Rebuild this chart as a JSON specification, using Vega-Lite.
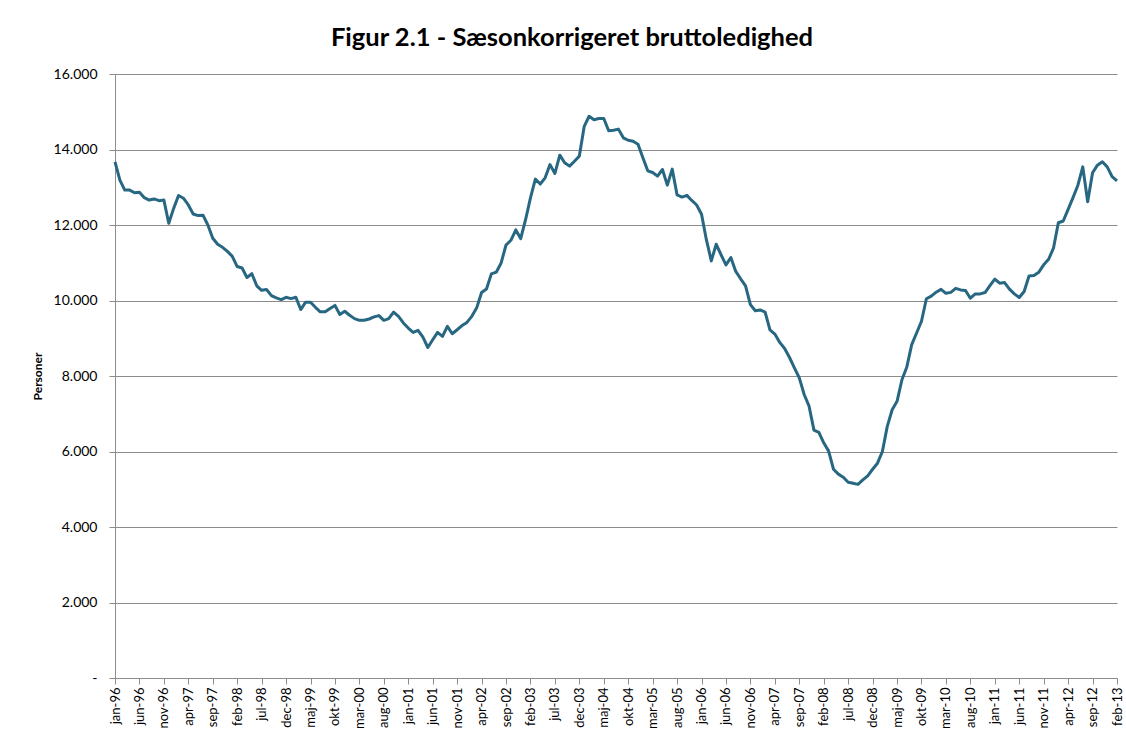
{
  "$schema": "https://vega.github.io/schema/vega-lite/v6.json",
  "width": 1002,
  "height": 604,
  "autosize": "none",
  "padding": {"left": 115, "top": 74, "right": 9, "bottom": 60},
  "background": "white",
  "config": {"view": {"stroke": null}, "font": "Lato"},
  "title": {"text": "Figur 2.1 - Sæsonkorrigeret bruttoledighed", "fontSize": 25.5, "fontWeight": "bold", "font": "Lato", "color": "#000000", "anchor": "middle", "dx": -44, "offset": 16},
  "data": {"values": [
    {"m":"jan-96","v":13675},{"m":"feb-96","v":13190},{"m":"mar-96","v":12925},{"m":"apr-96","v":12925},{"m":"maj-96","v":12855},{"m":"jun-96","v":12870},{"m":"jul-96","v":12725},{"m":"aug-96","v":12660},{"m":"sep-96","v":12690},{"m":"okt-96","v":12645},{"m":"nov-96","v":12660},{"m":"dec-96","v":12045},
    {"m":"jan-97","v":12440},{"m":"feb-97","v":12780},{"m":"mar-97","v":12710},{"m":"apr-97","v":12530},{"m":"maj-97","v":12290},{"m":"jun-97","v":12250},{"m":"jul-97","v":12260},{"m":"aug-97","v":12000},{"m":"sep-97","v":11650},{"m":"okt-97","v":11490},{"m":"nov-97","v":11410},{"m":"dec-97","v":11300},
    {"m":"jan-98","v":11170},{"m":"feb-98","v":10900},{"m":"mar-98","v":10860},{"m":"apr-98","v":10610},{"m":"maj-98","v":10710},{"m":"jun-98","v":10390},{"m":"jul-98","v":10270},{"m":"aug-98","v":10290},{"m":"sep-98","v":10130},{"m":"okt-98","v":10070},{"m":"nov-98","v":10025},{"m":"dec-98","v":10085},
    {"m":"jan-99","v":10050},{"m":"feb-99","v":10085},{"m":"mar-99","v":9760},{"m":"apr-99","v":9955},{"m":"maj-99","v":9955},{"m":"jun-99","v":9820},{"m":"jul-99","v":9700},{"m":"aug-99","v":9700},{"m":"sep-99","v":9790},{"m":"okt-99","v":9870},{"m":"nov-99","v":9630},{"m":"dec-99","v":9715},
    {"m":"jan-00","v":9610},{"m":"feb-00","v":9520},{"m":"mar-00","v":9475},{"m":"apr-00","v":9475},{"m":"maj-00","v":9510},{"m":"jun-00","v":9565},{"m":"jul-00","v":9600},{"m":"aug-00","v":9475},{"m":"sep-00","v":9520},{"m":"okt-00","v":9690},{"m":"nov-00","v":9580},{"m":"dec-00","v":9405},
    {"m":"jan-01","v":9270},{"m":"feb-01","v":9155},{"m":"mar-01","v":9210},{"m":"apr-01","v":9030},{"m":"maj-01","v":8755},{"m":"jun-01","v":8960},{"m":"jul-01","v":9155},{"m":"aug-01","v":9050},{"m":"sep-01","v":9315},{"m":"okt-01","v":9120},{"m":"nov-01","v":9225},{"m":"dec-01","v":9335},
    {"m":"jan-02","v":9420},{"m":"feb-02","v":9580},{"m":"mar-02","v":9805},{"m":"apr-02","v":10210},{"m":"maj-02","v":10305},{"m":"jun-02","v":10705},{"m":"jul-02","v":10750},{"m":"aug-02","v":10995},{"m":"sep-02","v":11470},{"m":"okt-02","v":11595},{"m":"nov-02","v":11870},{"m":"dec-02","v":11640},
    {"m":"jan-03","v":12140},{"m":"feb-03","v":12720},{"m":"mar-03","v":13215},{"m":"apr-03","v":13085},{"m":"maj-03","v":13250},{"m":"jun-03","v":13600},{"m":"jul-03","v":13365},{"m":"aug-03","v":13850},{"m":"sep-03","v":13650},{"m":"okt-03","v":13560},{"m":"nov-03","v":13690},{"m":"dec-03","v":13825},
    {"m":"jan-04","v":14615},{"m":"feb-04","v":14880},{"m":"mar-04","v":14790},{"m":"apr-04","v":14820},{"m":"maj-04","v":14820},{"m":"jun-04","v":14495},{"m":"jul-04","v":14510},{"m":"aug-04","v":14540},{"m":"sep-04","v":14310},{"m":"okt-04","v":14245},{"m":"nov-04","v":14220},{"m":"dec-04","v":14140},
    {"m":"jan-05","v":13780},{"m":"feb-05","v":13435},{"m":"mar-05","v":13390},{"m":"apr-05","v":13295},{"m":"maj-05","v":13470},{"m":"jun-05","v":13055},{"m":"jul-05","v":13480},{"m":"aug-05","v":12795},{"m":"sep-05","v":12740},{"m":"okt-05","v":12785},{"m":"nov-05","v":12650},{"m":"dec-05","v":12530},
    {"m":"jan-06","v":12285},{"m":"feb-06","v":11605},{"m":"mar-06","v":11050},{"m":"apr-06","v":11490},{"m":"maj-06","v":11210},{"m":"jun-06","v":10945},{"m":"jul-06","v":11140},{"m":"aug-06","v":10770},{"m":"sep-06","v":10575},{"m":"okt-06","v":10390},{"m":"nov-06","v":9890},{"m":"dec-06","v":9730},
    {"m":"jan-07","v":9750},{"m":"feb-07","v":9695},{"m":"mar-07","v":9220},{"m":"apr-07","v":9110},{"m":"maj-07","v":8890},{"m":"jun-07","v":8730},{"m":"jul-07","v":8490},{"m":"aug-07","v":8215},{"m":"sep-07","v":7950},{"m":"okt-07","v":7510},{"m":"nov-07","v":7200},{"m":"dec-07","v":6565},
    {"m":"jan-08","v":6505},{"m":"feb-08","v":6230},{"m":"mar-08","v":6010},{"m":"apr-08","v":5530},{"m":"maj-08","v":5400},{"m":"jun-08","v":5320},{"m":"jul-08","v":5185},{"m":"aug-08","v":5160},{"m":"sep-08","v":5130},{"m":"okt-08","v":5250},{"m":"nov-08","v":5355},{"m":"dec-08","v":5530},
    {"m":"jan-09","v":5690},{"m":"feb-09","v":6000},{"m":"mar-09","v":6665},{"m":"apr-09","v":7105},{"m":"maj-09","v":7330},{"m":"jun-09","v":7900},{"m":"jul-09","v":8240},{"m":"aug-09","v":8830},{"m":"sep-09","v":9140},{"m":"okt-09","v":9450},{"m":"nov-09","v":10045},{"m":"dec-09","v":10115},
    {"m":"jan-10","v":10220},{"m":"feb-10","v":10295},{"m":"mar-10","v":10190},{"m":"apr-10","v":10215},{"m":"maj-10","v":10322},{"m":"jun-10","v":10280},{"m":"jul-10","v":10265},{"m":"aug-10","v":10060},{"m":"sep-10","v":10175},{"m":"okt-10","v":10175},{"m":"nov-10","v":10210},{"m":"dec-10","v":10395},
    {"m":"jan-11","v":10565},{"m":"feb-11","v":10460},{"m":"mar-11","v":10475},{"m":"apr-11","v":10300},{"m":"maj-11","v":10175},{"m":"jun-11","v":10080},{"m":"jul-11","v":10240},{"m":"aug-11","v":10650},{"m":"sep-11","v":10660},{"m":"okt-11","v":10750},{"m":"nov-11","v":10945},{"m":"dec-11","v":11090},
    {"m":"jan-12","v":11385},{"m":"feb-12","v":12060},{"m":"mar-12","v":12105},{"m":"apr-12","v":12415},{"m":"maj-12","v":12725},{"m":"jun-12","v":13055},{"m":"jul-12","v":13540},{"m":"aug-12","v":12615},{"m":"sep-12","v":13385},{"m":"okt-12","v":13585},{"m":"nov-12","v":13675},{"m":"dec-12","v":13540},
    {"m":"jan-13","v":13280},{"m":"feb-13","v":13170}
  ]},
  "mark": {"type": "line", "color": "#276782", "strokeWidth": 3, "strokeJoin": "round"},
  "encoding": {
    "x": {
      "field": "m", "type": "ordinal", "sort": null,
      "scale": {"type": "point", "padding": 0},
      "axis": {
        "title": null,
        "values": ["jan-96","jun-96","nov-96","apr-97","sep-97","feb-98","jul-98","dec-98","maj-99","okt-99","mar-00","aug-00","jan-01","jun-01","nov-01","apr-02","sep-02","feb-03","jul-03","dec-03","maj-04","okt-04","mar-05","aug-05","jan-06","jun-06","nov-06","apr-07","sep-07","feb-08","jul-08","dec-08","maj-09","okt-09","mar-10","aug-10","jan-11","jun-11","nov-11","apr-12","sep-12","feb-13"],
        "labelAngle": 270, "labelFontSize": 13, "labelColor": "#000000", "labelFont": "Lato",
        "tickColor": "#8c8c8c", "domainColor": "#8c8c8c", "tickSize": 6, "labelPadding": 3, "grid": false
      }
    },
    "y": {
      "field": "v", "type": "quantitative",
      "scale": {"domain": [0, 16000], "nice": false},
      "axis": {
        "title": "Personer", "titleFontSize": 12, "titleFontWeight": "bold", "titleColor": "#000000", "titlePadding": 9, "titleFont": "Lato",
        "values": [0, 2000, 4000, 6000, 8000, 10000, 12000, 14000, 16000],
        "labelExpr": "datum.value == 0 ? '-' : format(datum.value / 1000, '.3f')",
        "labelFontSize": 14, "labelColor": "#000000", "labelFont": "Lato", "labelPadding": 12,
        "grid": true, "gridColor": "#8c8c8c", "domainColor": "#8c8c8c", "tickColor": "#8c8c8c", "tickSize": 6
      }
    }
  }
}
